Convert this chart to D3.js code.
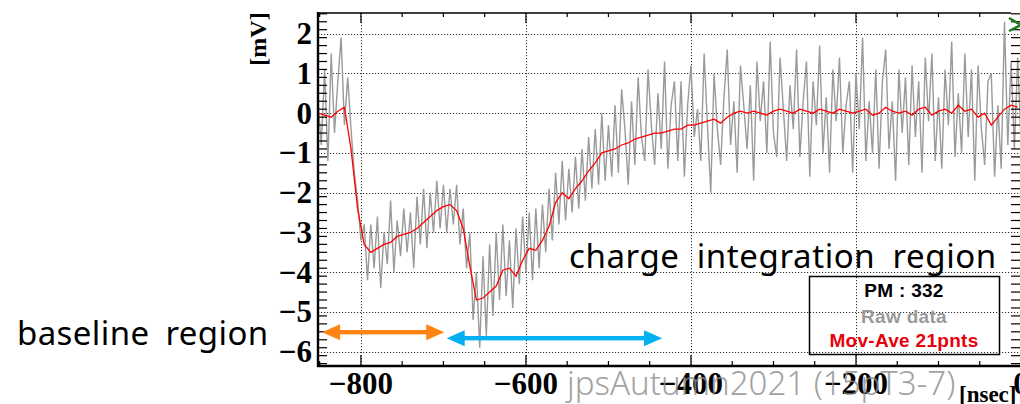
<!DOCTYPE html>
<meta charset="utf-8" />
<script src="https://d3js.org/d3.v7.js"></script>
<style>
  body { margin: 0; background: #fff; }
  svg { display: block; }
</style>
<div id="my_dataviz"></div>
<script>
  // waveform samples (ns start / step)
  const rawStart = -852, rawStep = 4;
  const rawMv = [
    0.3, -0.8, 1.1, -1.2, 1.5, -0.5, 0.8, 1.9, -0.3, 0.9,
    -0.4, -1.5, -2.2, -3.2, -2.8, -4.2, -2.8, -3.9, -2.6, -4.4,
    -3.0, -3.8, -2.2, -4.0, -2.7, -3.6, -2.4, -3.5, -2.5, -3.9,
    -2.1, -3.3, -1.9, -3.4, -2.0, -3.0, -1.7, -2.9, -1.8, -3.0,
    -1.9, -2.8, -1.8, -3.3, -2.4, -3.9, -3.0, -5.2, -4.0, -5.9,
    -3.6, -5.6, -3.3, -5.1, -3.0, -4.7, -2.8, -4.6, -3.2, -4.9,
    -2.9, -4.3, -2.6, -4.0, -2.5, -4.2, -2.4, -3.9, -2.3, -3.5,
    -1.9, -3.2, -1.5, -2.8, -1.2, -2.7, -1.4, -2.5, -1.1, -2.4,
    -0.9, -2.2, -0.6, -1.9, -0.4, -1.8, 0.0, -1.7, -0.3, -1.6,
    0.2, -1.5, 0.6, -0.4, -1.8, 0.3, -1.3, 0.9, -0.6, -1.2,
    1.1, -0.3, -1.3, 0.5, -0.9, 1.3, -1.4, 0.2, 0.8, -1.2,
    0.8, -1.6, 0.2, 1.2, -0.6, 0.1, -1.2, 1.5, -0.3, -2.0,
    1.0, -0.4, -1.3, 0.4, 1.6, -0.8, 0.3, -1.5, 1.2, 0.2,
    -0.9, 0.7, -1.7, 1.3, -0.2, 0.8, -1.0, 1.8, -0.5, -1.1,
    1.4, 0.1, -1.2, 0.7, -0.4, 1.6, -1.1, 0.3, 1.3, -1.6,
    0.8, -0.3, 1.7, -1.0, 0.4, -1.5, 1.1, -0.2, 1.4, -1.0,
    0.2, 0.8, -1.5, 1.0, -0.4, 1.9, -1.2, 0.3, -1.0, 1.1,
    -1.4, 0.8, 1.6, -0.9, 0.3, -1.7, 1.1, -0.5, 0.9, -1.3,
    1.2, -0.6, 0.8, -1.5, 1.4, -0.2, 1.5, -1.2, 0.4, -1.4,
    1.1, -0.3, 1.8, -1.1, 0.5, -1.0, 1.5, -0.6, 1.1, -1.7,
    1.2, -0.4, -1.3, 0.8, 1.0, -1.6, 0.2, -1.4, 2.3, -0.8,
    1.3, -0.9, 1.4, -0.7
  ];

  // 21 point moving average, sampled every 8 ns
  const aveStart = -852, aveStep = 8;
  const aveMv = [
    0.0, -0.05, -0.1, 0.05, 0.15, -0.9, -2.4, -3.3, -3.5, -3.4,
    -3.3, -3.25, -3.1, -3.05, -3.0, -2.9, -2.75, -2.6, -2.45, -2.35,
    -2.3, -2.45, -2.9, -3.85, -4.7, -4.65, -4.5, -4.35, -3.95, -3.9,
    -4.1, -3.7, -3.4, -3.45, -3.2, -2.85, -2.25, -2.0, -2.15, -1.9,
    -1.7, -1.45, -1.25, -1.0, -0.95, -0.9, -0.8, -0.75, -0.65, -0.6,
    -0.55, -0.5, -0.5, -0.45, -0.4, -0.4, -0.3, -0.3, -0.25, -0.2,
    -0.15, -0.25, -0.1, 0.0, 0.05, 0.0, 0.05, 0.0, -0.05, 0.05,
    0.1, 0.05, 0.0, 0.1, 0.05, 0.0, 0.1, 0.05, 0.0, 0.1,
    0.05, 0.0, 0.05, 0.1, -0.05, 0.0, 0.15, 0.05, 0.0, 0.05,
    -0.05, 0.1, 0.15, -0.05, 0.05, 0.1, 0.0, 0.2, 0.05, 0.1,
    -0.1, 0.0, -0.3, -0.1, 0.1, 0.2, 0.15
  ];

  const xTicks = [-800, -600, -400, -200, 0];
  const yTicks = [-6, -5, -4, -3, -2, -1, 0, 1, 2];
  const legendLines = ["PM : 332", "Raw data", "Mov-Ave 21pnts"];
  const legendColors = ["#000", "#999", "#e8000b"];

  // region arrows [from ns, to ns, level mV]
  const baseArrow = [-847, -699, -5.51];
  const chargeArrow = [-696, -435, -5.66];

  const W = 1020, H = 404;
  const plot = { left: 318, right: 1021, top: 13, bottom: 366 };

  const x = d3.scaleLinear().domain([-852, 0]).range([plot.left, plot.right]);
  const y = d3.scaleLinear().domain([-6.36, 2.52]).range([plot.bottom, plot.top]);

  const svg = d3.select("#my_dataviz").append("svg")
    .attr("width", W).attr("height", H);

  svg.append("defs").append("clipPath").attr("id", "clip")
    .append("rect")
    .attr("x", plot.left).attr("y", plot.top)
    .attr("width", plot.right - plot.left)
    .attr("height", plot.bottom - plot.top);

  // grid
  const grid = svg.append("g").attr("stroke", "#333").attr("stroke-width", 1)
    .attr("stroke-dasharray", "1.2,1.8");
  grid.selectAll(".gx").data(xTicks.filter(d => d > -852 && d < 0)).join("line")
    .attr("x1", d => Math.round(x(d)) + 0.5).attr("x2", d => Math.round(x(d)) + 0.5)
    .attr("y1", plot.top).attr("y2", plot.bottom);
  grid.selectAll(".gy").data(yTicks).join("line")
    .attr("y1", d => Math.round(y(d)) + 0.5).attr("y2", d => Math.round(y(d)) + 0.5)
    .attr("x1", plot.left).attr("x2", plot.right);

  // data
  const dataG = svg.append("g").attr("clip-path", "url(#clip)");
  const rawLine = d3.line()
    .x((d, i) => x(rawStart + i * rawStep))
    .y(d => y(d));
  const aveLine = d3.line()
    .x((d, i) => x(aveStart + i * aveStep))
    .y(d => y(d));

  dataG.append("path").datum(rawMv)
    .attr("d", rawLine)
    .attr("fill", "none")
    .attr("stroke", "#9a9a9a")
    .attr("stroke-width", 1.4);

  dataG.append("path").datum(aveMv)
    .attr("d", aveLine)
    .attr("fill", "none")
    .attr("stroke", "#ff0000")
    .attr("stroke-width", 1.3);

  // ticks (ROOT style, inward)
  const ticks = svg.append("g").attr("stroke", "#000").attr("stroke-width", 1.2);
  const yMinor = d3.range(-63, 26, 2).map(d => d / 10);
  ticks.selectAll(".ly").data(yMinor).join("line")
    .attr("y1", d => y(d)).attr("y2", d => y(d))
    .attr("x1", plot.left)
    .attr("x2", d => plot.left + (Math.abs(d - Math.round(d)) < 0.01 ? 21 : 9));
  ticks.selectAll(".ry").data(yMinor).join("line")
    .attr("y1", d => y(d)).attr("y2", d => y(d))
    .attr("x1", plot.right)
    .attr("x2", d => plot.right - (Math.abs(d - Math.round(d)) < 0.01 ? 20 : 10));
  const xMinor = d3.range(-850, 1, 50);
  ticks.selectAll(".bx").data(xMinor).join("line")
    .attr("x1", d => x(d)).attr("x2", d => x(d))
    .attr("y1", plot.bottom)
    .attr("y2", d => plot.bottom - (d % 200 === 0 ? 11 : 5));
  ticks.selectAll(".tx").data(xMinor).join("line")
    .attr("x1", d => x(d)).attr("x2", d => x(d))
    .attr("y1", plot.top)
    .attr("y2", d => plot.top + (d % 200 === 0 ? 10 : 4));

  // frame
  svg.append("line").attr("x1", plot.left).attr("x2", 1011)
    .attr("y1", plot.top).attr("y2", plot.top)
    .attr("stroke", "#000").attr("stroke-width", 1.5);
  svg.append("line").attr("x1", plot.left).attr("x2", plot.left)
    .attr("y1", plot.top - 1).attr("y2", plot.bottom + 1)
    .attr("stroke", "#000").attr("stroke-width", 2.4);
  svg.append("line").attr("x1", plot.left - 1).attr("x2", plot.right)
    .attr("y1", plot.bottom).attr("y2", plot.bottom)
    .attr("stroke", "#000").attr("stroke-width", 2.4);

  // tick labels
  const lab = svg.append("g")
    .style("font-family", "'Liberation Serif', 'Times New Roman', serif")
    .style("font-weight", "bold")
    .style("font-size", "31px");
  lab.selectAll(".yl").data(yTicks).join("text")
    .attr("x", 312).attr("y", d => y(d) + 10.5)
    .attr("text-anchor", "end")
    .text(d => d < 0 ? "\u2212" + Math.abs(d) : d);
  lab.selectAll(".xl").data(xTicks).join("text")
    .attr("x", d => x(d)).attr("y", 394)
    .attr("text-anchor", "middle")
    .text(d => d < 0 ? "\u2212" + Math.abs(d) : d);

  svg.append("text")
    .attr("transform", "translate(266, 39) rotate(-90)")
    .attr("text-anchor", "middle")
    .style("font-family", "'Liberation Serif', serif")
    .style("font-weight", "bold")
    .style("font-size", "24px")
    .text("[mV]");
  svg.append("text")
    .attr("x", 959).attr("y", 402)
    .style("font-family", "'Liberation Serif', serif")
    .style("font-weight", "bold")
    .style("font-size", "23px")
    .text("[nsec]");

  // green marker of the neighbouring panel
  svg.append("path")
    .attr("d", "M1009,18 L1021,25 L1009,31")
    .attr("fill", "none")
    .attr("stroke", "#1f7a1f")
    .attr("stroke-width", 2.5);

  // legend
  const leg = svg.append("g");
  leg.append("rect")
    .attr("x", 809.5).attr("y", 276.5).attr("width", 190).attr("height", 78)
    .attr("fill", "none").attr("stroke", "#000").attr("stroke-width", 1.5);
  leg.selectAll("text").data(legendLines).join("text")
    .attr("x", 904).attr("y", (d, i) => [297, 323, 347][i])
    .attr("text-anchor", "middle")
    .style("font-family", "'Liberation Sans', Arial, sans-serif")
    .style("font-weight", "bold")
    .style("font-size", "19px")
    .style("letter-spacing", "0.3px")
    .style("fill", (d, i) => legendColors[i])
    .text(d => d);

  // region arrows
  function arrow(a, color) {
    const x1 = x(a[0]), x2 = x(a[1]), yy = y(a[2]);
    const hl = 18, hw = 8;
    const g = svg.append("g").attr("fill", color);
    g.append("rect").attr("x", x1 + hl - 2).attr("y", yy - 2.2)
      .attr("width", x2 - x1 - 2 * hl + 4).attr("height", 4.4);
    g.append("path").attr("d", `M${x1},${yy}L${x1 + hl},${yy - hw}L${x1 + hl},${yy + hw}Z`);
    g.append("path").attr("d", `M${x2},${yy}L${x2 - hl},${yy - hw}L${x2 - hl},${yy + hw}Z`);
  }
  arrow(baseArrow, "#ff8412");
  arrow(chargeArrow, "#00b0f0");

  // slide annotations
  const note = svg.append("g")
    .style("font-family", "'Noto Sans', sans-serif")
    .style("font-size", "33px");
  note.append("text").attr("x", 569).attr("y", 268)
    .style("letter-spacing", "0.6px")
    .style("word-spacing", "8px")
    .text("charge integration region");
  note.append("text").attr("x", 17).attr("y", 345)
    .style("letter-spacing", "0.4px")
    .style("word-spacing", "7px")
    .text("baseline region");
  note.append("text").attr("x", 567).attr("y", 395)
    .style("fill", "#8c8c8c").style("opacity", 0.8)
    .style("font-weight", 300)
    .text("jpsAutumn2021 (15pT3-7)");
</script>
